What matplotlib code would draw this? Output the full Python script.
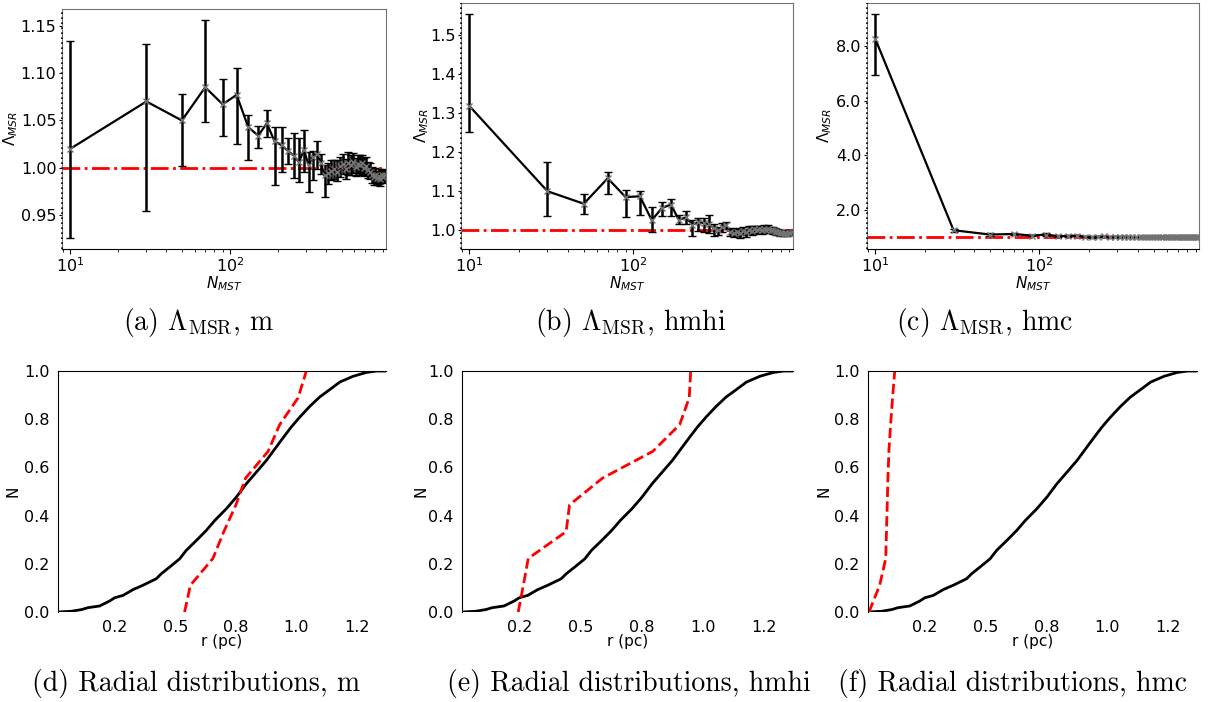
import matplotlib as mpl
from matplotlib import pyplot as plt
from matplotlib.ticker import FormatStrFormatter
import numpy as np

mpl.rcParams['mathtext.fontset'] = 'dejavusans'
mpl.rcParams['axes.unicode_minus'] = False

# MST ratio vs number of stars in the subset
n_mst = list(range(10, 931, 20))

lam_m = [1.020, 1.070, 1.050, 1.085, 1.067, 1.077, 1.043, 1.034, 1.047, 1.028,
         1.024, 1.018, 1.013, 1.006, 1.019, 1.003, 1.012, 1.015, 1.005, 0.992,
         0.995, 0.997, 0.999, 0.996, 1.002, 1.004, 0.999, 1.005, 1.003, 1.006,
         1.001, 1.004, 1.003, 1.005, 1.000, 1.002, 0.998, 0.996, 0.993, 0.990,
         0.992, 0.989, 0.991, 0.988, 0.992, 0.990, 0.993]
lam_m_hi = [0.114, 0.061, 0.028, 0.071, 0.027, 0.028, 0.013, 0.010, 0.014, 0.015,
            0.019, 0.014, 0.024, 0.025, 0.021, 0.014, 0.006, 0.013, 0.010, 0.011,
            0.010, 0.011, 0.009, 0.012, 0.010, 0.011, 0.010, 0.012, 0.011, 0.010,
            0.009, 0.010, 0.011, 0.009, 0.010, 0.009, 0.008, 0.009, 0.008, 0.007,
            0.008, 0.007, 0.008, 0.007, 0.006, 0.007, 0.006]
lam_m_lo = [0.094, 0.115, 0.048, 0.037, 0.033, 0.052, 0.035, 0.013, 0.014, 0.046,
            0.028, 0.014, 0.024, 0.021, 0.023, 0.028, 0.025, 0.016, 0.011, 0.023,
            0.012, 0.010, 0.011, 0.010, 0.012, 0.010, 0.011, 0.012, 0.010, 0.011,
            0.010, 0.009, 0.010, 0.011, 0.009, 0.010, 0.009, 0.008, 0.009, 0.008,
            0.008, 0.007, 0.008, 0.007, 0.007, 0.006, 0.007]

lam_hmhi = [1.318, 1.100, 1.068, 1.133, 1.085, 1.087, 1.026, 1.057, 1.066, 1.027,
            1.033, 1.015, 1.021, 1.019, 1.016, 1.006, 1.001, 1.008, 1.013, 0.997,
            0.994, 0.996, 0.993, 0.998, 0.995, 1.001, 0.999, 1.003, 1.002, 1.004,
            1.001, 1.003, 1.002, 1.004, 1.001, 1.000, 0.998, 0.996, 0.995, 0.993,
            0.994, 0.992, 0.993, 0.992, 0.994, 0.993, 0.995]
lam_hmhi_hi = [0.234, 0.075, 0.026, 0.017, 0.017, 0.013, 0.034, 0.015, 0.015, 0.013,
               0.016, 0.012, 0.011, 0.013, 0.024, 0.010, 0.008, 0.010, 0.008, 0.009,
               0.010, 0.009, 0.011, 0.010, 0.009, 0.010, 0.011, 0.009, 0.010, 0.008,
               0.009, 0.010, 0.008, 0.009, 0.008, 0.009, 0.008, 0.007, 0.008, 0.007,
               0.007, 0.006, 0.007, 0.006, 0.006, 0.006, 0.005]
lam_hmhi_lo = [0.066, 0.064, 0.025, 0.041, 0.052, 0.049, 0.029, 0.021, 0.030, 0.011,
               0.017, 0.029, 0.022, 0.022, 0.023, 0.020, 0.012, 0.013, 0.010, 0.012,
               0.011, 0.010, 0.012, 0.010, 0.011, 0.009, 0.010, 0.011, 0.009, 0.010,
               0.009, 0.008, 0.009, 0.010, 0.008, 0.009, 0.008, 0.008, 0.007, 0.008,
               0.007, 0.007, 0.006, 0.007, 0.006, 0.006, 0.006]

lam_hmc = [8.27, 1.25, 1.09, 1.11, 1.05, 1.09, 1.03, 1.04, 1.05, 1.01,
           1.00, 1.01, 1.02, 1.00, 1.01, 1.00, 1.01, 1.00, 1.00, 0.99,
           1.00, 1.00, 0.99, 1.00, 1.01, 1.00, 1.00, 1.01, 1.00, 1.00,
           1.00, 1.00, 1.00, 1.00, 1.00, 1.00, 1.00, 0.99, 1.00, 0.99,
           1.00, 0.99, 0.99, 1.00, 0.99, 1.00, 1.00]
lam_hmc_hi = [0.91, 0.06, 0.04, 0.05, 0.03, 0.04, 0.03, 0.03, 0.03, 0.02,
              0.02, 0.02, 0.02, 0.02, 0.02, 0.02, 0.02, 0.02, 0.02, 0.02,
              0.02, 0.02, 0.02, 0.02, 0.02, 0.02, 0.02, 0.02, 0.02, 0.02,
              0.02, 0.02, 0.02, 0.02, 0.02, 0.02, 0.02, 0.02, 0.02, 0.02,
              0.02, 0.02, 0.02, 0.02, 0.02, 0.02, 0.02]
lam_hmc_lo = [1.34, 0.05, 0.04, 0.04, 0.03, 0.04, 0.03, 0.03, 0.03, 0.02,
              0.02, 0.02, 0.02, 0.02, 0.02, 0.02, 0.02, 0.02, 0.02, 0.02,
              0.02, 0.02, 0.02, 0.02, 0.02, 0.02, 0.02, 0.02, 0.02, 0.02,
              0.02, 0.02, 0.02, 0.02, 0.02, 0.02, 0.02, 0.02, 0.02, 0.02,
              0.02, 0.02, 0.02, 0.02, 0.02, 0.02, 0.02]

# cumulative radial distribution of all stars
r_all = [0.015, 0.070, 0.112, 0.139, 0.187, 0.229, 0.249, 0.284, 0.325, 0.366,
         0.421, 0.442, 0.477, 0.518, 0.545, 0.587, 0.628, 0.663, 0.711, 0.752,
         0.793, 0.835, 0.876, 0.917, 0.945, 0.979, 1.014, 1.055, 1.096, 1.138,
         1.179, 1.234, 1.289, 1.331, 1.370]
n_all = [0.000, 0.003, 0.010, 0.018, 0.025, 0.046, 0.059, 0.069, 0.093, 0.111,
         0.138, 0.159, 0.187, 0.221, 0.256, 0.297, 0.339, 0.380, 0.429, 0.477,
         0.532, 0.581, 0.629, 0.685, 0.723, 0.768, 0.809, 0.853, 0.892, 0.923,
         0.954, 0.978, 0.994, 1.000, 1.000]

# ten most massive stars, one curve per mass assignment
n_top = [i / 9 for i in range(10)]
r_m = [0.538, 0.562, 0.655, 0.700, 0.750, 0.790, 0.883, 0.931, 1.007, 1.041]
r_hmhi = [0.245, 0.266, 0.286, 0.441, 0.455, 0.590, 0.796, 0.906, 0.945, 0.951]
r_hmc = [0.019, 0.063, 0.088, 0.091, 0.094, 0.097, 0.101, 0.108, 0.116, 0.125]

top_panels = [
    (lam_m, lam_m_lo, lam_m_hi, '%.2f', r'(a) $\Lambda_{\rm MSR}$, m'),
    (lam_hmhi, lam_hmhi_lo, lam_hmhi_hi, '%.1f', r'(b) $\Lambda_{\rm MSR}$, hmhi'),
    (lam_hmc, lam_hmc_lo, lam_hmc_hi, '%.1f', r'(c) $\Lambda_{\rm MSR}$, hmc'),
]
bottom_panels = [
    (r_m, '(d) Radial distributions, m'),
    (r_hmhi, '(e) Radial distributions, hmhi'),
    (r_hmc, '(f) Radial distributions, hmc'),
]

top_pos = [[0.0511, 0.6453, 0.2671, 0.3419],
           [0.3800, 0.6453, 0.2737, 0.3504],
           [0.7148, 0.6453, 0.2737, 0.3504]]
bot_pos = [[0.0478, 0.1282, 0.2704, 0.3433],
           [0.3809, 0.1282, 0.2729, 0.3433],
           [0.7156, 0.1282, 0.2712, 0.3433]]
top_ylab_x = [-0.13, -0.09, -0.10]
bot_ylab_x = [-0.113, -0.10, -0.112]
top_cap_x = [199, 631, 985]
bot_cap_x = [196, 629, 1013]

fig = plt.figure(figsize=(12.13, 7.02), dpi=100)

for pos, (lam, lo, hi, fmt, cap), cx, lx in zip(top_pos, top_panels,
                                                top_cap_x, top_ylab_x):
    ax = fig.add_axes(pos)
    ax.axhline(1.0, color='red', ls='-.', lw=2, zorder=1)
    ax.errorbar(n_mst, lam, yerr=[lo, hi], color='k', ecolor='k', lw=1.6,
                elinewidth=1.8, capsize=3, capthick=1, marker='x',
                mec='0.45', ms=5, mew=1, zorder=2)
    ax.set_xscale('log')
    ax.set_xlim(8.9, 945)
    ax.yaxis.set_major_formatter(FormatStrFormatter(fmt))
    ax.set_xlabel(r'$N_{MST}$', fontsize=11, labelpad=0)
    ax.set_ylabel(r'$\Lambda_{MSR}$', fontsize=11)
    ax.yaxis.set_label_coords(lx, 0.5)
    ax.tick_params(labelsize=11.5)
    ax.tick_params(axis='x', pad=1.5)
    ax.tick_params(axis='y', length=2.5, pad=1.5)
    for s in ['top', 'right', 'left']:
        ax.spines[s].set_color('0.45')
    ax.spines['bottom'].set_color('k')
    ax.plot([0, 0], [0, 1], transform=ax.transAxes, color='k', lw=1.2,
            ls=(0, (1, 2)), clip_on=False, zorder=5)
    fig.text(cx / 1213, 1 - 322 / 702, cap, ha='center', va='center',
             fontsize=20, family='cmr10', math_fontfamily='cm')

for pos, (r_red, cap), cx, lx in zip(bot_pos, bottom_panels,
                                     bot_cap_x, bot_ylab_x):
    ax = fig.add_axes(pos)
    ax.plot(r_all, n_all, color='k', lw=2)
    ax.plot(r_red, n_top, color='red', ls='--', lw=2)
    ax.set_xlim(0.015, 1.37)
    ax.set_ylim(0, 1)
    ax.set_xticks([0.25, 0.5, 0.75, 1.0, 1.25])
    ax.xaxis.set_major_formatter(FormatStrFormatter('%.1f'))
    ax.yaxis.set_major_formatter(FormatStrFormatter('%.1f'))
    ax.tick_params(length=0, pad=6, labelsize=11.5)
    ax.set_xlabel('r (pc)', fontsize=11, labelpad=-1)
    ax.set_ylabel('N', fontsize=11)
    ax.yaxis.set_label_coords(lx, 0.5)
    ax.spines['right'].set_visible(False)
    ax.spines['bottom'].set_visible(False)
    fig.text(cx / 1213, 1 - 683 / 702, cap, ha='center', va='center',
             fontsize=20, family='cmr10')

fig.savefig('out.png', dpi=100)
